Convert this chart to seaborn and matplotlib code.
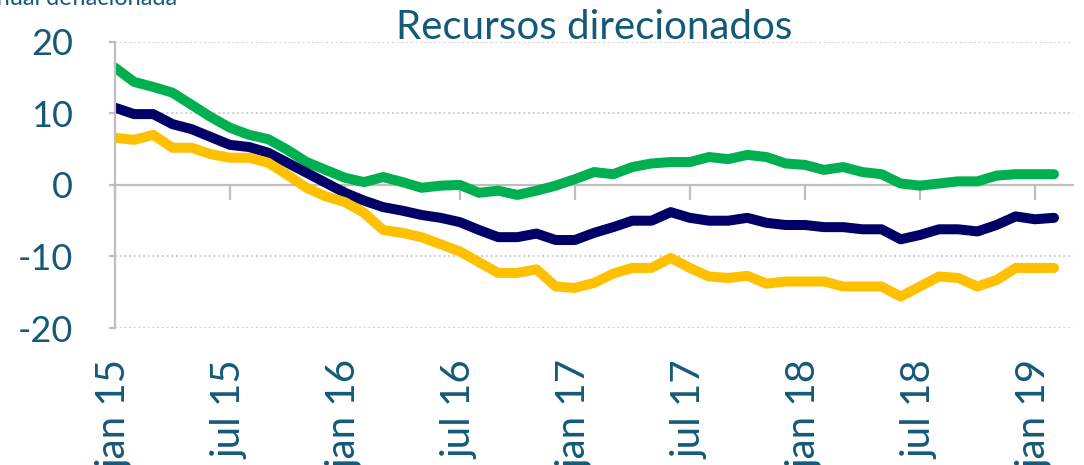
import numpy as np
import pandas as pd
import matplotlib
matplotlib.use('Agg')
import matplotlib.pyplot as plt
import seaborn as sns

# recursos direcionados, variacao anual deflacionada (%), jan 15 - fev 19
months = list(range(50))
green = [16.4, 14.4, 13.7, 12.9, 11.2, 9.5, 8.0, 7.0, 6.4, 4.9,
         3.2, 2.1, 1.0, 0.4, 1.1, 0.4, -0.4, -0.1, 0.0, -1.1,
         -0.8, -1.4, -0.8, -0.1, 0.8, 1.8, 1.5, 2.5, 3.0, 3.2,
         3.2, 3.9, 3.6, 4.2, 3.9, 3.0, 2.8, 2.1, 2.5, 1.8,
         1.5, 0.2, -0.1, 0.2, 0.5, 0.5, 1.3, 1.5, 1.5, 1.5]
navy = [10.8, 9.9, 9.9, 8.5, 7.8, 6.7, 5.6, 5.3, 4.5, 3.1,
        1.7, 0.3, -1.1, -2.2, -3.1, -3.6, -4.2, -4.6, -5.2, -6.3,
        -7.3, -7.3, -6.8, -7.7, -7.7, -6.7, -5.9, -5.0, -5.0, -3.8,
        -4.6, -5.0, -5.0, -4.6, -5.3, -5.6, -5.6, -5.9, -5.9, -6.2,
        -6.2, -7.6, -7.0, -6.2, -6.2, -6.5, -5.6, -4.4, -4.8, -4.6]
yellow = [6.6, 6.3, 7.0, 5.2, 5.2, 4.3, 3.8, 3.8, 3.1, 1.4,
          -0.4, -1.6, -2.4, -3.9, -6.3, -6.7, -7.3, -8.3, -9.3, -10.8,
          -12.3, -12.3, -11.8, -14.2, -14.4, -13.7, -12.4, -11.6, -11.6, -10.2,
          -11.6, -12.8, -13.0, -12.7, -13.8, -13.5, -13.5, -13.5, -14.2, -14.2,
          -14.2, -15.6, -14.2, -12.8, -13.0, -14.2, -13.3, -11.6, -11.6, -11.6]
tick_pos = [0, 6, 12, 18, 24, 30, 36, 42, 48]
tick_labels = ['jan 15', 'jul 15', 'jan 16', 'jul 16', 'jan 17',
               'jul 17', 'jan 18', 'jul 18', 'jan 19']

df = pd.DataFrame({'mes': months * 3,
                   'valor': green + navy + yellow,
                   'serie': ['g'] * 50 + ['n'] * 50 + ['y'] * 50})

sns.set_style('white')
plt.rcParams['font.family'] = ['Lato', 'DejaVu Sans']
plt.rcParams['axes.unicode_minus'] = False
txt = '#145A78'
grid = '#BFBFBF'

fig = plt.figure(figsize=(10.84, 4.65), dpi=100)
ax = fig.add_axes([0.106, 0.2946, 0.884, 0.6154])

for y in [-20, -10, 10, 20]:
    ax.axhline(y, color='#C8C8C8', lw=1.3, ls=(0, (1, 1.6)), zorder=0)

sns.lineplot(data=df, x='mes', y='valor', hue='serie', ax=ax,
             palette={'g': '#00B050', 'n': '#000066', 'y': '#FFC000'},
             lw=7.2, legend=False, solid_capstyle='round', solid_joinstyle='round')

ax.set_xlim(0, 50)
ax.set_ylim(-20, 20)
ax.set_yticks([-20, -10, 0, 10, 20])
ax.set_xticks(tick_pos)
ax.set_xticklabels(tick_labels)
ax.set_xlabel('')
ax.set_ylabel('')

for s in ['top', 'right']:
    ax.spines[s].set_visible(False)
ax.spines['left'].set_color(grid)
ax.spines['left'].set_linewidth(1.6)
ax.spines['bottom'].set_position(('data', 0))
ax.spines['bottom'].set_color(grid)
ax.spines['bottom'].set_linewidth(1.6)
ax.spines['bottom'].set_zorder(1)

ax.tick_params(axis='y', left=True, length=4, width=1.6, color=grid,
               labelsize=26, labelcolor=txt, pad=26)
ax.tick_params(axis='x', bottom=True, length=11, width=1.6, color=grid,
               labelsize=29, labelcolor=txt, pad=115, labelrotation=90)
for lab in ax.get_xticklabels():
    lab.set_va('top')
    lab.set_ha('center')

ax.set_title('Recursos direcionados', fontsize=29, color=txt, pad=2)
fig.text(-0.014, 1.0 - 5 / 465, 'anual deflacionada', fontsize=17,
         color=txt, va='baseline', ha='left')

fig.savefig('out.png', dpi=100)
